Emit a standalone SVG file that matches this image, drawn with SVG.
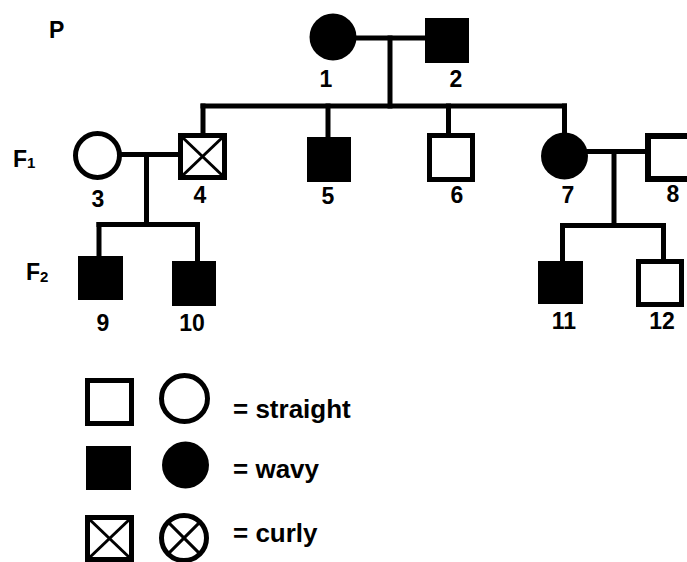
<svg xmlns="http://www.w3.org/2000/svg" width="687" height="562" viewBox="0 0 687 562">
  <style>
    text { font-family: "Liberation Sans", Arial, sans-serif; font-weight: bold; fill: #000; }
    .lbl { font-size: 23px; text-anchor: middle; }
    .gen { font-size: 23px; }
    .sub { font-size: 15px; }
    .key { font-size: 26px; }
    .line { stroke: #000; stroke-width: 5; fill: none; stroke-linecap: square; }
    .open { fill: #fff; stroke: #000; stroke-width: 5; }
    .solid { fill: #000; stroke: none; }
    .cross { stroke: #000; stroke-width: 3; }
  </style>
  <rect width="687" height="562" fill="#fff"/>

  <!-- generation labels -->
  <text class="gen" x="49" y="38">P</text>
  <text class="gen" x="13" y="167">F<tspan class="sub" dy="1">1</tspan></text>
  <text class="gen" x="26" y="280">F<tspan class="sub" dy="2">2</tspan></text>

  <!-- connectors -->
  <g id="connectors">
    <line class="line" x1="356" y1="38" x2="425" y2="38"/>
    <line class="line" x1="390" y1="38" x2="390" y2="106"/>
    <line class="line" x1="203" y1="106" x2="564.5" y2="106"/>
    <line class="line" x1="203" y1="106" x2="203" y2="133"/>
    <line class="line" x1="328" y1="106" x2="328" y2="137"/>
    <line class="line" x1="448.5" y1="106" x2="448.5" y2="133"/>
    <line class="line" x1="564.5" y1="106" x2="564.5" y2="132"/>

    <line class="line" x1="122" y1="154.5" x2="178" y2="154.5"/>
    <line class="line" x1="146.5" y1="154.5" x2="146.5" y2="224.5"/>
    <line class="line" x1="99" y1="224.5" x2="197.5" y2="224.5"/>
    <line class="line" x1="99" y1="224.5" x2="99" y2="256"/>
    <line class="line" x1="197.5" y1="224.5" x2="197.5" y2="261"/>

    <line class="line" x1="588" y1="151.5" x2="645" y2="151.5"/>
    <line class="line" x1="614" y1="151.5" x2="614" y2="225.5"/>
    <line class="line" x1="562.5" y1="225.5" x2="663.5" y2="225.5"/>
    <line class="line" x1="562.5" y1="225.5" x2="562.5" y2="261"/>
    <line class="line" x1="663.5" y1="225.5" x2="663.5" y2="259"/>
  </g>

  <!-- individuals -->
  <g id="n1"><circle class="solid" cx="333" cy="37" r="23.5"/><text class="lbl" x="326" y="87">1</text></g>
  <g id="n2"><rect class="solid" x="425" y="18" width="44" height="45"/><text class="lbl" x="456" y="87">2</text></g>
  <g id="n3"><circle class="open" cx="97.5" cy="155.5" r="22"/><text class="lbl" x="98" y="207">3</text></g>
  <g id="n4">
    <rect class="open" x="180.5" y="135.5" width="44" height="42"/>
    <line class="cross" x1="180.5" y1="135.5" x2="224.5" y2="177.5"/>
    <line class="cross" x1="224.5" y1="135.5" x2="180.5" y2="177.5"/>
    <text class="lbl" x="200" y="203">4</text>
  </g>
  <g id="n5"><rect class="solid" x="307" y="137" width="44" height="45"/><text class="lbl" x="328" y="204">5</text></g>
  <g id="n6"><rect class="open" x="429.5" y="135.5" width="43" height="44"/><text class="lbl" x="457" y="203">6</text></g>
  <g id="n7"><circle class="solid" cx="564.5" cy="156" r="23.5"/><text class="lbl" x="568" y="203">7</text></g>
  <g id="n8"><rect class="open" x="648" y="136" width="45" height="43" style="stroke-width:6"/><text class="lbl" x="673" y="202">8</text></g>
  <g id="n9"><rect class="solid" x="78" y="256" width="45" height="44"/><text class="lbl" x="103" y="331">9</text></g>
  <g id="n10"><rect class="solid" x="172" y="261" width="44" height="45"/><text class="lbl" x="192" y="331">10</text></g>
  <g id="n11"><rect class="solid" x="538" y="261" width="45" height="43"/><text class="lbl" x="564" y="329">11</text></g>
  <g id="n12"><rect class="open" x="638.5" y="261.5" width="43" height="43"/><text class="lbl" x="662" y="329">12</text></g>

  <!-- key -->
  <g id="key-straight">
    <rect class="open" x="87.5" y="380.5" width="44" height="43"/>
    <circle class="open" cx="184.5" cy="398.5" r="23"/>
    <text class="key" x="233" y="418">= straight</text>
  </g>
  <g id="key-wavy">
    <rect class="solid" x="86" y="446" width="45" height="44"/>
    <circle class="solid" cx="185.5" cy="465" r="23.5"/>
    <text class="key" x="233" y="478">= wavy</text>
  </g>
  <g id="key-curly">
    <rect class="open" x="87.5" y="517.5" width="44" height="42"/>
    <line class="cross" x1="87.5" y1="517.5" x2="131.5" y2="559.5"/>
    <line class="cross" x1="131.5" y1="517.5" x2="87.5" y2="559.5"/>
    <circle class="open" cx="184" cy="538" r="22.5"/>
    <line class="cross" x1="168.1" y1="522.1" x2="199.9" y2="553.9"/>
    <line class="cross" x1="199.9" y1="522.1" x2="168.1" y2="553.9"/>
    <text class="key" x="233" y="542">= curly</text>
  </g>
</svg>
